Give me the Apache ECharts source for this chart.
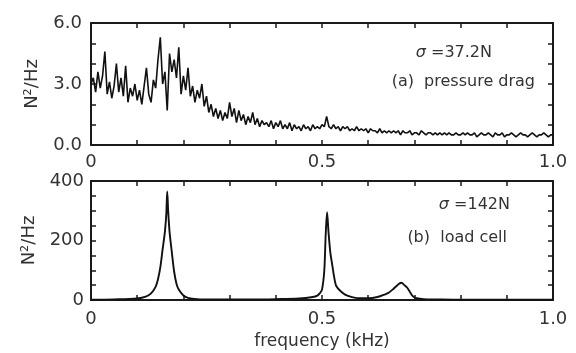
<!DOCTYPE html>
<html>
<head>
<meta charset="utf-8">
<script src="https://cdn.jsdelivr.net/npm/echarts@6/dist/echarts.min.js"></script>
<style>html,body{margin:0;padding:0;background:#fff;}#c{width:576px;height:353px;}</style>
</head>
<body>
<div id="c"></div>
<script>
// (a) pressure drag spectrum, sampled every 0.005 kHz from 0 to 1.0 kHz
var freqStartA = 0, freqStepA = 0.005;
var pressureDrag = [
3.0,3.3,2.6,3.6,2.8,3.4,4.6,2.5,3.1,2.3,
2.9,4.0,2.6,3.3,2.4,3.9,2.1,2.8,2.4,3.0,
2.2,2.7,2.0,2.9,3.8,2.5,2.1,3.2,2.8,4.2,
5.3,3.0,3.6,1.7,4.5,3.6,4.2,3.3,4.8,2.5,
3.4,2.7,3.8,2.4,2.9,2.1,2.7,2.3,3.0,1.9,
2.4,1.6,2.0,1.4,1.8,1.3,1.7,1.2,1.6,1.3,
2.1,1.4,1.8,1.1,1.7,1.2,1.5,1.0,1.4,1.1,
1.6,1.0,1.3,0.9,1.2,1.0,1.1,0.9,1.2,0.8,
1.1,0.9,1.2,0.8,1.0,0.8,1.1,0.7,1.0,0.8,
0.9,0.7,1.0,0.8,0.9,0.7,1.0,0.8,0.9,0.8,
1.0,0.9,1.4,0.9,0.8,1.0,0.8,0.9,0.7,0.9,
0.8,0.9,0.7,0.8,0.7,0.9,0.7,0.8,0.7,0.8,
0.6,0.8,0.7,0.7,0.6,0.8,0.6,0.7,0.6,0.7,
0.6,0.7,0.6,0.7,0.5,0.7,0.6,0.6,0.7,0.5,
0.6,0.6,0.5,0.7,0.6,0.5,0.6,0.6,0.5,0.6,
0.5,0.6,0.5,0.6,0.5,0.6,0.5,0.5,0.6,0.5,
0.5,0.6,0.5,0.6,0.5,0.5,0.6,0.4,0.5,0.6,
0.5,0.5,0.6,0.5,0.4,0.6,0.5,0.5,0.6,0.4,
0.5,0.5,0.6,0.5,0.4,0.5,0.6,0.5,0.5,0.4,
0.5,0.6,0.5,0.4,0.5,0.5,0.6,0.5,0.4,0.5,
0.5
];
// (b) load cell spectrum
var freqB = [0,0.05,0.10,0.12,0.13,0.14,0.145,0.15,0.155,0.16,0.163,0.165,0.167,0.17,0.175,0.18,0.185,0.19,0.20,0.21,0.23,0.26,0.30,0.35,0.40,0.45,0.48,0.49,0.495,0.50,0.505,0.508,0.511,0.514,0.518,0.522,0.526,0.53,0.535,0.54,0.55,0.56,0.57,0.58,0.60,0.62,0.635,0.645,0.655,0.662,0.668,0.672,0.678,0.684,0.69,0.697,0.705,0.72,0.75,0.80,0.90,1.0];
var loadCell = [1,2,5,12,22,45,70,110,170,230,290,365,300,230,160,95,55,35,15,7,3,2,2,2,3,5,10,15,22,35,100,220,295,230,160,120,80,50,38,30,18,12,8,6,6,10,18,25,38,48,56,58,50,42,28,12,6,3,2,1,1,1];
var yTickLabelsA = ['0.0','3.0','6.0'];
var yTickLabelsB = ['0','200','400'];

var dataA = pressureDrag.map(function(v,i){return [freqStartA + i*freqStepA, v];});
var dataB = freqB.map(function(f,i){return [f, loadCell[i]];});

var FONT = 'DejaVu Sans';
var TXT = '#333';
var lineC = '#1a1a1a';
function xLab(v){
  var k = Math.round(v*10)/10;
  if (Math.abs(k) < 1e-9) return '0';
  if (Math.abs(k-0.5) < 1e-9) return '0.5';
  if (Math.abs(k-1) < 1e-9) return '1.0';
  return '';
}
function frameAxis(extra){
  var base = {
    axisLine:{show:true,onZero:false,lineStyle:{color:lineC,width:2}},
    axisTick:{show:true,inside:true,length:5,lineStyle:{color:lineC,width:1.5}},
    splitLine:{show:false}
  };
  for (var k in extra) base[k] = extra[k];
  return base;
}
var sigmaRich = {s:{fontStyle:'italic',fontFamily:FONT,fontSize:16,fill:TXT},t:{fontFamily:FONT,fontSize:16,fill:TXT}};
var chart = echarts.init(document.getElementById('c'));
chart.setOption({
  animation:false,
  backgroundColor:'#fff',
  grid:[
    {left:91, top:23, width:462, height:122},
    {left:91, top:181, width:462, height:119}
  ],
  xAxis:[
    frameAxis({type:'value',gridIndex:0,min:0,max:1,interval:0.1,position:'bottom',
      axisLabel:{show:true,formatter:xLab,color:TXT,fontFamily:FONT,fontSize:18,margin:8,showMinLabel:true,showMaxLabel:true}}),
    frameAxis({type:'value',gridIndex:0,min:0,max:1,interval:0.1,position:'top',axisLabel:{show:false}}),
    frameAxis({type:'value',gridIndex:1,min:0,max:1,interval:0.1,position:'bottom',
      name:'frequency (kHz)',nameLocation:'middle',nameGap:33,
      nameTextStyle:{color:TXT,fontFamily:FONT,fontSize:17},
      axisLabel:{show:true,formatter:xLab,color:TXT,fontFamily:FONT,fontSize:18,margin:10,showMinLabel:true,showMaxLabel:true}}),
    frameAxis({type:'value',gridIndex:1,min:0,max:1,interval:0.1,position:'top',axisLabel:{show:false}})
  ],
  yAxis:[
    frameAxis({type:'value',gridIndex:0,min:0,max:6,interval:1,position:'left',
      name:'N²/Hz',nameLocation:'middle',nameGap:50,nameRotate:90,
      nameTextStyle:{color:TXT,fontFamily:FONT,fontSize:18},
      axisLabel:{show:true,color:TXT,fontFamily:FONT,fontSize:18,margin:9,
        formatter:function(v){return (v%3===0)?yTickLabelsA[v/3]:'';}}}),
    frameAxis({type:'value',gridIndex:0,min:0,max:6,interval:1,position:'right',axisLabel:{show:false}}),
    frameAxis({type:'value',gridIndex:1,min:0,max:400,interval:50,position:'left',
      name:'N²/Hz',nameLocation:'middle',nameGap:48,nameRotate:90,
      nameTextStyle:{color:TXT,fontFamily:FONT,fontSize:18},
      axisLabel:{show:true,color:TXT,fontFamily:FONT,fontSize:18,margin:7,
        formatter:function(v){return (v%200===0)?yTickLabelsB[v/200]:'';}}}),
    frameAxis({type:'value',gridIndex:1,min:0,max:400,interval:50,position:'right',axisLabel:{show:false}})
  ],
  series:[
    {type:'line',xAxisIndex:0,yAxisIndex:0,data:dataA,showSymbol:false,lineStyle:{color:'#111',width:1.6}},
    {type:'line',xAxisIndex:2,yAxisIndex:2,data:dataB,showSymbol:false,smooth:0.3,lineStyle:{color:'#111',width:1.9}}
  ],
  graphic:[
    {type:'text',right:576-492,top:45,style:{text:'{s|σ}{t| =37.2N}',rich:sigmaRich}},
    {type:'text',right:576-535,top:74,style:{text:'(a)  pressure drag',fill:TXT,font:'16px "DejaVu Sans"'}},
    {type:'text',right:576-510,top:197,style:{text:'{s|σ}{t| =142N}',rich:sigmaRich}},
    {type:'text',right:576-507,top:230,style:{text:'(b)  load cell',fill:TXT,font:'16px "DejaVu Sans"'}}
  ]
});
</script>
</body>
</html>
